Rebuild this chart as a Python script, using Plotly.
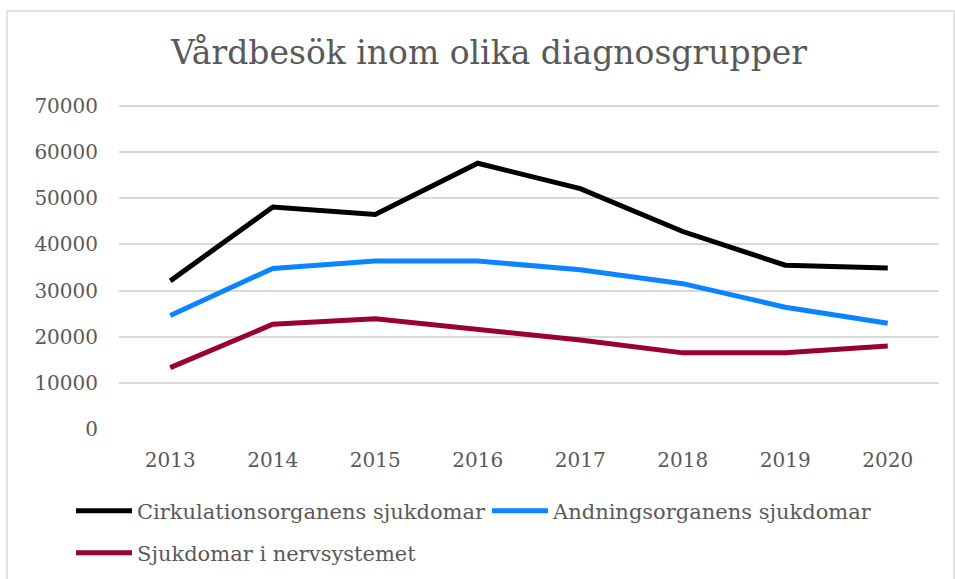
import plotly.graph_objects as go

years = ["2013", "2014", "2015", "2016", "2017", "2018", "2019", "2020"]
cirkulation = [32100, 48100, 46500, 57600, 52100, 42800, 35500, 34900]
andning = [24600, 34800, 36400, 36400, 34500, 31500, 26400, 22900]
nerv = [13300, 22700, 23900, 21600, 19300, 16500, 16500, 18000]
y_ticks = [0, 10000, 20000, 30000, 40000, 50000, 60000, 70000]

FONT = "DejaVu Serif, Liberation Serif, serif"
TXT = "#595959"

# plot area: x 119..939 px, y: value 0 at 429 px, 70000 at 106 px
PX_PER_UNIT = 323 / 70000
TOP = 104
y_max = (429 - TOP) / PX_PER_UNIT

fig = go.Figure()
fig.add_trace(go.Scatter(x=years, y=cirkulation, mode="lines", name="Cirkulationsorganens sjukdomar",
                         line=dict(color="#000000", width=5), legend="legend"))
fig.add_trace(go.Scatter(x=years, y=andning, mode="lines", name="Andningsorganens sjukdomar",
                         line=dict(color="#0A84FF", width=5), legend="legend3"))
fig.add_trace(go.Scatter(x=years, y=nerv, mode="lines", name="Sjukdomar i nervsystemet",
                         line=dict(color="#990033", width=5), legend="legend2"))

legend_common = dict(orientation="h", font=dict(family=FONT, size=21, color=TXT),
                     itemwidth=56, bgcolor="rgba(0,0,0,0)", xref="container", yref="container",
                     xanchor="left", yanchor="middle", tracegroupgap=0)

fig.update_layout(
    width=955, height=579,
    margin=dict(l=119, r=16, t=TOP, b=150, autoexpand=False),
    paper_bgcolor="white", plot_bgcolor="white",
    title=dict(text="Vårdbesök inom olika diagnosgrupper", font=dict(family=FONT, size=33, color=TXT),
               x=489 / 955, xref="container", xanchor="center", y=1 - 52 / 579, yref="container", yanchor="middle"),
    xaxis=dict(type="category", range=[-0.5, 7.5], showgrid=False, zeroline=False, showline=False,
               ticks="outside", ticklen=13, tickcolor="rgba(0,0,0,0)", automargin=False,
               tickfont=dict(family=FONT, size=20, color=TXT)),
    yaxis=dict(range=[0, y_max], tickvals=y_ticks, ticktext=[str(v) for v in y_ticks],
               showgrid=True, gridcolor="#d9d9d9", gridwidth=1.5, zeroline=False, showline=False,
               ticks="outside", ticklen=16, tickcolor="rgba(0,0,0,0)", automargin=False,
               tickfont=dict(family=FONT, size=20, color=TXT)),
    legend=dict(x=71 / 955, y=1 - 511 / 579, **legend_common),
    legend3=dict(x=487 / 955, y=1 - 511 / 579, **legend_common),
    legend2=dict(x=71 / 955, y=1 - 553 / 579, **legend_common),
    showlegend=True,
    shapes=[dict(type="rect", xref="paper", yref="paper",
                 x0=(7 - 119) / 820, x1=(954 - 119) / 820,
                 y0=(429 - 590) / (429 - TOP), y1=(429 - 11) / (429 - TOP),
                 line=dict(color="#d9d9d9", width=1.5), fillcolor="rgba(0,0,0,0)", layer="below")],
)

fig.write_html("out.html", config={"displayModeBar": False},
               post_script="document.body.style.margin='0';")
